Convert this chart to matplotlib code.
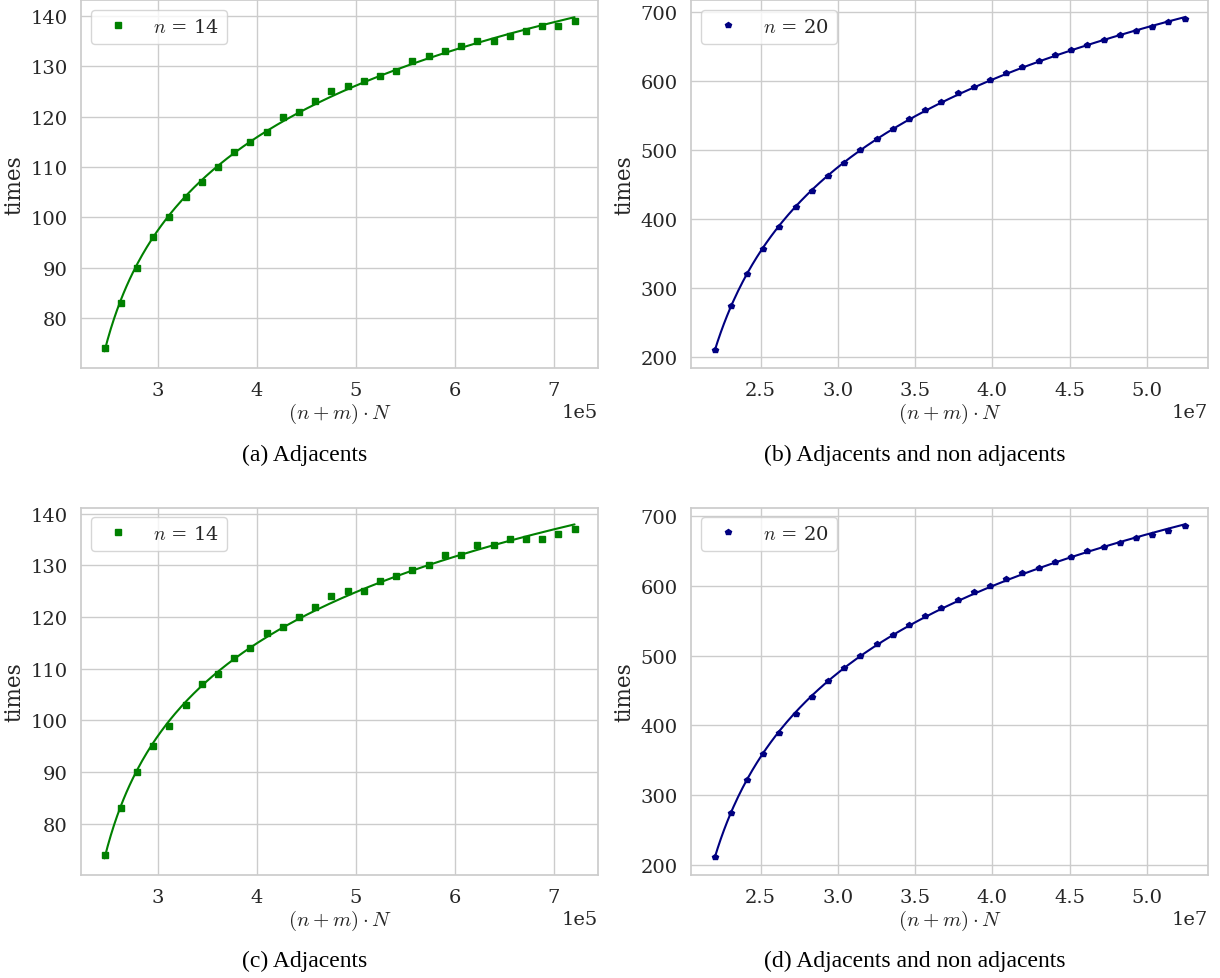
import numpy as np
import matplotlib
matplotlib.use("Agg")
import matplotlib.pyplot as plt
import seaborn as sns

# tamaño del problema (n+m) y número de iteraciones N
nm_14 = 2 ** 14
nm_20 = 2 ** 20
N_14 = np.arange(15, 45)
N_20 = np.arange(21, 51)

# tiempos medidos
t_ady_14 = [74, 83, 90, 96, 100, 104, 107, 110, 113, 115, 117, 120, 121, 123, 125,
            126, 127, 128, 129, 131, 132, 133, 134, 135, 135, 136, 137, 138, 138, 139]
t_ady_20 = [210, 274, 320, 357, 389, 417, 441, 462, 482, 500, 516, 531, 545, 558, 570,
            582, 592, 602, 612, 621, 629, 637, 645, 652, 659, 666, 672, 678, 685, 690]
t_all_14 = [74, 83, 90, 95, 99, 103, 107, 109, 112, 114, 117, 118, 120, 122, 124,
            125, 125, 127, 128, 129, 130, 132, 132, 134, 134, 135, 135, 135, 136, 137]
t_all_20 = [211, 274, 322, 359, 389, 417, 441, 463, 482, 500, 516, 530, 544, 556, 568,
            580, 591, 599, 610, 618, 626, 634, 641, 649, 655, 661, 668, 673, 679, 685]

captions = ["(a) Adjacents", "(b) Adjacents and non adjacents",
            "(c) Adjacents", "(d) Adjacents and non adjacents"]

sns.set_theme(style="whitegrid")
plt.rcParams["font.family"] = "serif"
plt.rcParams["font.serif"] = ["DejaVu Serif"]
plt.rcParams["mathtext.fontset"] = "cm"


def ajuste(x, y):
    # y = a + b*log(x - c), se busca c por barrido y a, b por minimos cuadrados
    mejor = None
    for c in np.linspace(0, x.min() * 0.995, 400):
        A = np.column_stack([np.ones_like(x), np.log(x - c)])
        coef, *_ = np.linalg.lstsq(A, y, rcond=None)
        err = np.sum((A @ coef - y) ** 2)
        if mejor is None or err < mejor[0]:
            mejor = (err, c, coef)
    _, c, coef = mejor
    xx = np.linspace(x.min(), x.max(), 300)
    return xx, coef[0] + coef[1] * np.log(xx - c)


def dibujar(ax, x, y, color, marker, ms, n):
    x = np.asarray(x, dtype=float)
    y = np.asarray(y, dtype=float)
    ax.plot(x, y, linestyle="none", marker=marker, markersize=ms, color=color,
            label=r"$n$ = %d" % n)
    xx, yy = ajuste(x, y)
    ax.plot(xx, yy, color=color, linewidth=1.5)
    ax.ticklabel_format(style="sci", axis="x", scilimits=(0, 0))
    ax.set_xlabel(r"$(n+m)\cdot N$", fontsize=15, labelpad=1)
    ax.set_ylabel("times", fontsize=15.5, labelpad=4)
    ax.tick_params(labelsize=14)
    ax.xaxis.get_offset_text().set_fontsize(14)
    ax.legend(loc="upper left", fontsize=14)


fig = plt.figure(figsize=(12.2, 9.79), dpi=100)

pos = [[0.0664, 0.6231, 0.4238, 0.3754],
       [0.5664, 0.6231, 0.4238, 0.3754],
       [0.0664, 0.1052, 0.4238, 0.3752],
       [0.5664, 0.1052, 0.4238, 0.3752]]
axs = [fig.add_axes(p) for p in pos]

dibujar(axs[0], nm_14 * N_14, t_ady_14, "green", "s", 5, 14)
dibujar(axs[1], nm_20 * N_20, t_ady_20, "navy", "p", 4, 20)
dibujar(axs[2], nm_14 * N_14, t_all_14, "green", "s", 5, 14)
dibujar(axs[3], nm_20 * N_20, t_all_20, "navy", "p", 4, 20)

cap_y = [0.535, 0.535, 0.018, 0.018]
cap_x = [0.25, 0.75, 0.25, 0.75]
for cx, cy, txt in zip(cap_x, cap_y, captions):
    fig.text(cx, cy, txt, ha="center", va="center", fontsize=17,
             family="Liberation Serif", color="black")

fig.savefig("out.png", dpi=100)
